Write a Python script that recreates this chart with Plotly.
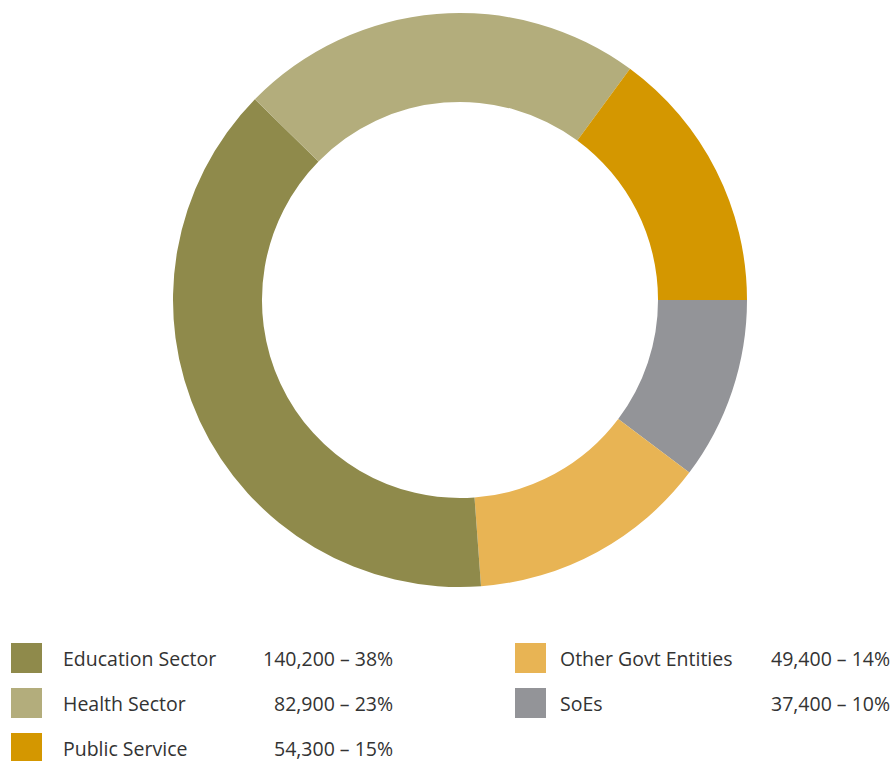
import plotly.graph_objects as go

categories = ["Education Sector", "Health Sector", "Public Service", "Other Govt Entities", "SoEs"]
values = [140200, 82900, 54300, 49400, 37400]
percents = [38, 23, 15, 14, 10]
colors = ["#8F8A4B", "#B3AD7C", "#D49700", "#E8B454", "#939498"]

# drawing order of slices, clockwise starting at 3 o'clock
pie_order = [4, 3, 0, 1, 2]

W, H = 893, 761

def px(x):
    return x / W

def py(y):
    return 1 - y / H

fig = go.Figure(go.Pie(
    labels=[categories[i] for i in pie_order],
    values=[values[i] for i in pie_order],
    marker=dict(colors=[colors[i] for i in pie_order], line=dict(width=0)),
    hole=0.69,
    sort=False,
    direction="clockwise",
    rotation=90,
    textinfo="none",
    hoverinfo="label+value+percent",
    domain=dict(x=[px(173), px(747)], y=[py(587), py(13)]),
    showlegend=False,
))

# custom legend: column, row layout
legend_pos = [(0, 0), (0, 1), (0, 2), (1, 0), (1, 1)]
col_sq_x = [11, 515]
col_name_x = [63, 560]
col_val_x = [393, 890]
row_y = [658, 703, 748]
font = dict(family="Open Sans, sans-serif", size=19.5, color="#333333")

shapes = []
annotations = []
for i, (c, r) in enumerate(legend_pos):
    cy = row_y[r]
    shapes.append(dict(type="rect", xref="paper", yref="paper",
                       x0=px(col_sq_x[c]), x1=px(col_sq_x[c] + 31),
                       y0=py(cy + 15), y1=py(cy - 15),
                       fillcolor=colors[i], line=dict(width=0)))
    annotations.append(dict(xref="paper", yref="paper", x=px(col_name_x[c]), y=py(cy),
                            xanchor="left", yanchor="middle", text=categories[i],
                            showarrow=False, font=font, borderpad=0, borderwidth=0))
    annotations.append(dict(xref="paper", yref="paper", x=px(col_val_x[c]), y=py(cy),
                            xanchor="right", yanchor="middle",
                            text=f"{values[i]:,} \u2013 {percents[i]}%",
                            showarrow=False, font=font, borderpad=0, borderwidth=0))

fig.update_layout(
    width=W, height=H,
    margin=dict(l=0, r=0, t=0, b=0),
    paper_bgcolor="white",
    plot_bgcolor="white",
    shapes=shapes,
    annotations=annotations,
)

fig.write_html(
    "out.html",
    config={"displayModeBar": False},
    post_script="document.body.style.margin='0';document.body.style.overflow='hidden';",
)
